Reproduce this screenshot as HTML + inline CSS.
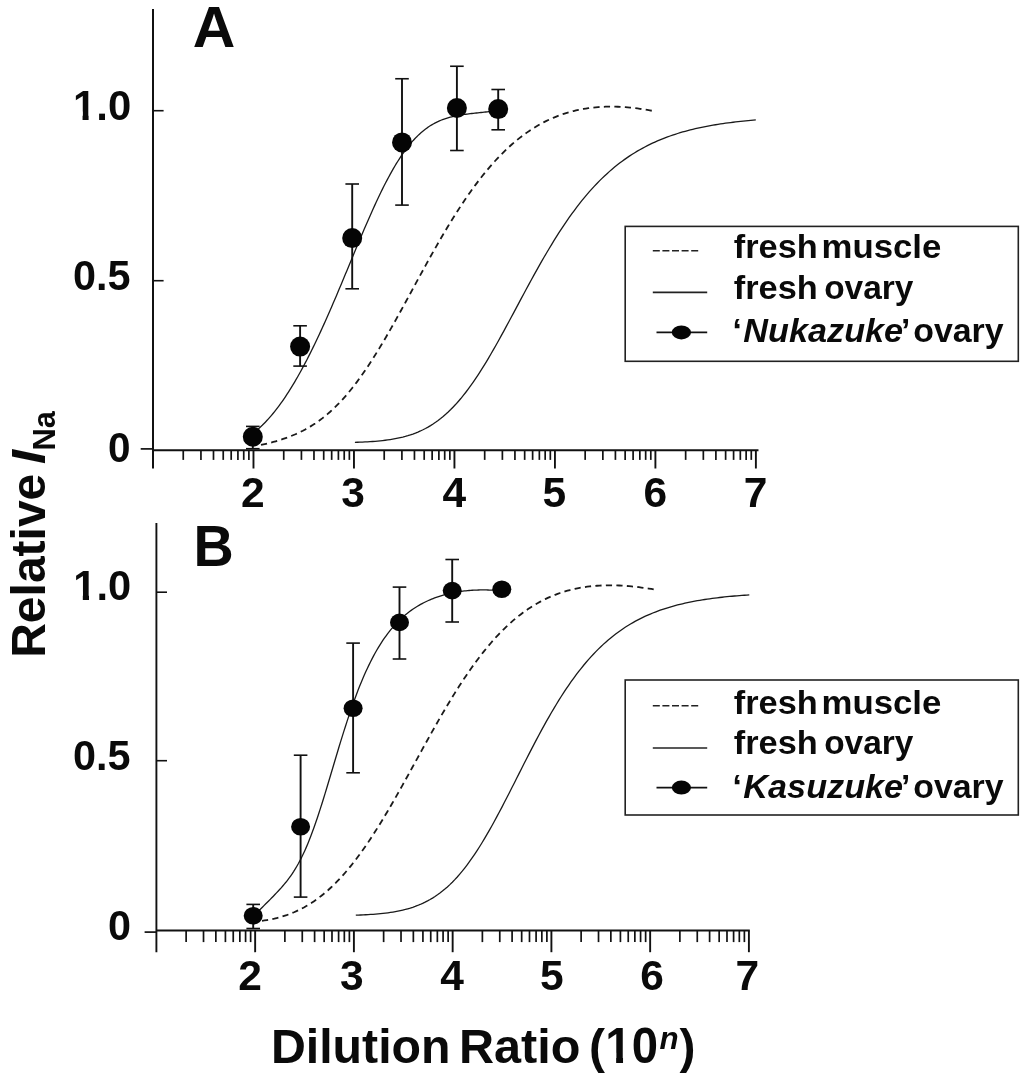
<!DOCTYPE html>
<html lang="en"><head><meta charset="utf-8"><title>Figure</title>
<style>
html,body{margin:0;padding:0;background:#fff;}
body{width:1024px;height:1079px;overflow:hidden;}
svg{display:block;font-family:"Liberation Sans",Arial,Helvetica,sans-serif;fill:#0a0a0a;}
</style></head><body>
<svg width="1024" height="1079" viewBox="0 0 1024 1079">
<rect x="0" y="0" width="1024" height="1079" fill="#fff"/>
<line x1="153.00" y1="9.00" x2="153.00" y2="468.50" stroke="#111" stroke-width="2.0"/>
<line x1="153.00" y1="450.30" x2="758.48" y2="450.30" stroke="#111" stroke-width="2.0"/>
<line x1="140.70" y1="448.90" x2="153.00" y2="448.90" stroke="#111" stroke-width="1.7"/>
<line x1="153.00" y1="110.70" x2="163.60" y2="110.70" stroke="#111" stroke-width="1.6"/>
<line x1="153.00" y1="280.70" x2="163.60" y2="280.70" stroke="#111" stroke-width="1.6"/>
<line x1="183.25" y1="450.30" x2="183.25" y2="459.90" stroke="#111" stroke-width="1.7"/>
<line x1="200.94" y1="450.30" x2="200.94" y2="459.90" stroke="#111" stroke-width="1.7"/>
<line x1="213.49" y1="450.30" x2="213.49" y2="459.90" stroke="#111" stroke-width="1.7"/>
<line x1="223.23" y1="450.30" x2="223.23" y2="459.90" stroke="#111" stroke-width="1.7"/>
<line x1="231.19" y1="450.30" x2="231.19" y2="459.90" stroke="#111" stroke-width="1.7"/>
<line x1="237.92" y1="450.30" x2="237.92" y2="459.90" stroke="#111" stroke-width="1.7"/>
<line x1="243.74" y1="450.30" x2="243.74" y2="459.90" stroke="#111" stroke-width="1.7"/>
<line x1="248.88" y1="450.30" x2="248.88" y2="459.90" stroke="#111" stroke-width="1.7"/>
<line x1="253.48" y1="450.30" x2="253.48" y2="468.50" stroke="#111" stroke-width="1.9"/>
<line x1="283.73" y1="450.30" x2="283.73" y2="459.90" stroke="#111" stroke-width="1.7"/>
<line x1="301.42" y1="450.30" x2="301.42" y2="459.90" stroke="#111" stroke-width="1.7"/>
<line x1="313.97" y1="450.30" x2="313.97" y2="459.90" stroke="#111" stroke-width="1.7"/>
<line x1="323.71" y1="450.30" x2="323.71" y2="459.90" stroke="#111" stroke-width="1.7"/>
<line x1="331.67" y1="450.30" x2="331.67" y2="459.90" stroke="#111" stroke-width="1.7"/>
<line x1="338.40" y1="450.30" x2="338.40" y2="459.90" stroke="#111" stroke-width="1.7"/>
<line x1="344.22" y1="450.30" x2="344.22" y2="459.90" stroke="#111" stroke-width="1.7"/>
<line x1="349.36" y1="450.30" x2="349.36" y2="459.90" stroke="#111" stroke-width="1.7"/>
<line x1="353.96" y1="450.30" x2="353.96" y2="468.50" stroke="#111" stroke-width="1.9"/>
<line x1="384.21" y1="450.30" x2="384.21" y2="459.90" stroke="#111" stroke-width="1.7"/>
<line x1="401.90" y1="450.30" x2="401.90" y2="459.90" stroke="#111" stroke-width="1.7"/>
<line x1="414.45" y1="450.30" x2="414.45" y2="459.90" stroke="#111" stroke-width="1.7"/>
<line x1="424.19" y1="450.30" x2="424.19" y2="459.90" stroke="#111" stroke-width="1.7"/>
<line x1="432.15" y1="450.30" x2="432.15" y2="459.90" stroke="#111" stroke-width="1.7"/>
<line x1="438.88" y1="450.30" x2="438.88" y2="459.90" stroke="#111" stroke-width="1.7"/>
<line x1="444.70" y1="450.30" x2="444.70" y2="459.90" stroke="#111" stroke-width="1.7"/>
<line x1="449.84" y1="450.30" x2="449.84" y2="459.90" stroke="#111" stroke-width="1.7"/>
<line x1="454.44" y1="450.30" x2="454.44" y2="468.50" stroke="#111" stroke-width="1.9"/>
<line x1="484.69" y1="450.30" x2="484.69" y2="459.90" stroke="#111" stroke-width="1.7"/>
<line x1="502.38" y1="450.30" x2="502.38" y2="459.90" stroke="#111" stroke-width="1.7"/>
<line x1="514.93" y1="450.30" x2="514.93" y2="459.90" stroke="#111" stroke-width="1.7"/>
<line x1="524.67" y1="450.30" x2="524.67" y2="459.90" stroke="#111" stroke-width="1.7"/>
<line x1="532.63" y1="450.30" x2="532.63" y2="459.90" stroke="#111" stroke-width="1.7"/>
<line x1="539.36" y1="450.30" x2="539.36" y2="459.90" stroke="#111" stroke-width="1.7"/>
<line x1="545.18" y1="450.30" x2="545.18" y2="459.90" stroke="#111" stroke-width="1.7"/>
<line x1="550.32" y1="450.30" x2="550.32" y2="459.90" stroke="#111" stroke-width="1.7"/>
<line x1="554.92" y1="450.30" x2="554.92" y2="468.50" stroke="#111" stroke-width="1.9"/>
<line x1="585.17" y1="450.30" x2="585.17" y2="459.90" stroke="#111" stroke-width="1.7"/>
<line x1="602.86" y1="450.30" x2="602.86" y2="459.90" stroke="#111" stroke-width="1.7"/>
<line x1="615.41" y1="450.30" x2="615.41" y2="459.90" stroke="#111" stroke-width="1.7"/>
<line x1="625.15" y1="450.30" x2="625.15" y2="459.90" stroke="#111" stroke-width="1.7"/>
<line x1="633.11" y1="450.30" x2="633.11" y2="459.90" stroke="#111" stroke-width="1.7"/>
<line x1="639.84" y1="450.30" x2="639.84" y2="459.90" stroke="#111" stroke-width="1.7"/>
<line x1="645.66" y1="450.30" x2="645.66" y2="459.90" stroke="#111" stroke-width="1.7"/>
<line x1="650.80" y1="450.30" x2="650.80" y2="459.90" stroke="#111" stroke-width="1.7"/>
<line x1="655.40" y1="450.30" x2="655.40" y2="468.50" stroke="#111" stroke-width="1.9"/>
<line x1="685.65" y1="450.30" x2="685.65" y2="459.90" stroke="#111" stroke-width="1.7"/>
<line x1="703.34" y1="450.30" x2="703.34" y2="459.90" stroke="#111" stroke-width="1.7"/>
<line x1="715.89" y1="450.30" x2="715.89" y2="459.90" stroke="#111" stroke-width="1.7"/>
<line x1="725.63" y1="450.30" x2="725.63" y2="459.90" stroke="#111" stroke-width="1.7"/>
<line x1="733.59" y1="450.30" x2="733.59" y2="459.90" stroke="#111" stroke-width="1.7"/>
<line x1="740.32" y1="450.30" x2="740.32" y2="459.90" stroke="#111" stroke-width="1.7"/>
<line x1="746.14" y1="450.30" x2="746.14" y2="459.90" stroke="#111" stroke-width="1.7"/>
<line x1="751.28" y1="450.30" x2="751.28" y2="459.90" stroke="#111" stroke-width="1.7"/>
<line x1="755.88" y1="450.30" x2="755.88" y2="468.50" stroke="#111" stroke-width="1.9"/>
<path d="M354.90,442.35 L357.42,442.27 L359.94,442.17 L362.46,442.07 L364.99,441.94 L367.51,441.81 L370.03,441.65 L372.55,441.48 L375.07,441.29 L377.59,441.07 L380.11,440.83 L382.64,440.56 L385.16,440.26 L387.68,439.93 L390.20,439.56 L392.72,439.16 L395.24,438.71 L397.76,438.21 L400.28,437.66 L402.81,437.06 L405.33,436.40 L407.85,435.68 L410.37,434.89 L412.89,434.03 L415.41,433.09 L417.93,432.08 L420.46,430.97 L422.98,429.78 L425.50,428.50 L428.02,427.11 L430.54,425.63 L433.06,424.03 L435.58,422.33 L438.11,420.51 L440.63,418.57 L443.15,416.51 L445.67,414.33 L448.19,412.02 L450.71,409.58 L453.23,407.01 L455.76,404.32 L458.28,401.49 L460.80,398.54 L463.32,395.45 L465.84,392.24 L468.36,388.90 L470.88,385.43 L473.41,381.85 L475.93,378.15 L478.45,374.34 L480.97,370.42 L483.49,366.40 L486.01,362.29 L488.53,358.08 L491.05,353.79 L493.58,349.42 L496.10,344.98 L498.62,340.48 L501.14,335.93 L503.66,331.33 L506.18,326.68 L508.70,322.01 L511.23,317.31 L513.75,312.60 L516.27,307.87 L518.79,303.15 L521.31,298.43 L523.83,293.72 L526.35,289.04 L528.88,284.38 L531.40,279.75 L533.92,275.16 L536.44,270.61 L538.96,266.12 L541.48,261.68 L544.00,257.29 L546.53,252.98 L549.05,248.72 L551.57,244.54 L554.09,240.44 L556.61,236.41 L559.13,232.45 L561.65,228.58 L564.17,224.80 L566.70,221.09 L569.22,217.48 L571.74,213.95 L574.26,210.51 L576.78,207.15 L579.30,203.89 L581.82,200.71 L584.35,197.62 L586.87,194.62 L589.39,191.70 L591.91,188.87 L594.43,186.13 L596.95,183.47 L599.47,180.89 L602.00,178.40 L604.52,175.98 L607.04,173.65 L609.56,171.39 L612.08,169.20 L614.60,167.10 L617.12,165.06 L619.65,163.10 L622.17,161.20 L624.69,159.37 L627.21,157.61 L629.73,155.91 L632.25,154.27 L634.77,152.70 L637.29,151.18 L639.82,149.72 L642.34,148.31 L644.86,146.96 L647.38,145.66 L649.90,144.41 L652.42,143.20 L654.94,142.05 L657.47,140.94 L659.99,139.87 L662.51,138.85 L665.03,137.86 L667.55,136.92 L670.07,136.01 L672.59,135.14 L675.12,134.30 L677.64,133.50 L680.16,132.73 L682.68,131.99 L685.20,131.28 L687.72,130.60 L690.24,129.95 L692.77,129.33 L695.29,128.73 L697.81,128.16 L700.33,127.61 L702.85,127.08 L705.37,126.57 L707.89,126.09 L710.42,125.63 L712.94,125.18 L715.46,124.76 L717.98,124.35 L720.50,123.96 L723.02,123.58 L725.54,123.23 L728.06,122.88 L730.59,122.55 L733.11,122.24 L735.63,121.94 L738.15,121.65 L740.67,121.37 L743.19,121.11 L745.71,120.86 L748.24,120.62 L750.76,120.38 L753.28,120.16 L755.80,119.95" fill="none" stroke="#1a1a1a" stroke-width="1.3" stroke-linejoin="round"/>
<path d="M261.00,444.99 L263.46,444.43 L265.92,443.85 L268.38,443.24 L270.84,442.61 L273.31,441.95 L275.77,441.26 L278.23,440.53 L280.69,439.77 L283.15,438.96 L285.61,438.12 L288.07,437.23 L290.53,436.29 L292.99,435.29 L295.45,434.25 L297.92,433.14 L300.38,431.97 L302.84,430.74 L305.30,429.43 L307.76,428.06 L310.22,426.61 L312.68,425.09 L315.14,423.48 L317.60,421.79 L320.06,420.01 L322.53,418.15 L324.99,416.19 L327.45,414.14 L329.91,412.00 L332.37,409.76 L334.83,407.42 L337.29,404.98 L339.75,402.44 L342.21,399.80 L344.67,397.06 L347.14,394.22 L349.60,391.27 L352.06,388.23 L354.52,385.08 L356.98,381.84 L359.44,378.50 L361.90,375.07 L364.36,371.54 L366.82,367.93 L369.28,364.23 L371.75,360.44 L374.21,356.58 L376.67,352.64 L379.13,348.62 L381.59,344.54 L384.05,340.40 L386.51,336.19 L388.97,331.93 L391.43,327.62 L393.89,323.27 L396.36,318.88 L398.82,314.45 L401.28,309.99 L403.74,305.51 L406.20,301.00 L408.66,296.49 L411.12,291.97 L413.58,287.44 L416.04,282.91 L418.50,278.39 L420.97,273.88 L423.43,269.39 L425.89,264.92 L428.35,260.47 L430.81,256.05 L433.27,251.67 L435.73,247.32 L438.19,243.02 L440.65,238.76 L443.11,234.54 L445.58,230.38 L448.04,226.28 L450.50,222.23 L452.96,218.24 L455.42,214.31 L457.88,210.45 L460.34,206.65 L462.80,202.92 L465.26,199.27 L467.72,195.68 L470.19,192.17 L472.65,188.74 L475.11,185.37 L477.57,182.09 L480.03,178.88 L482.49,175.75 L484.95,172.70 L487.41,169.72 L489.87,166.83 L492.33,164.01 L494.80,161.27 L497.26,158.61 L499.72,156.03 L502.18,153.53 L504.64,151.10 L507.10,148.75 L509.56,146.47 L512.02,144.27 L514.48,142.15 L516.94,140.10 L519.41,138.12 L521.87,136.22 L524.33,134.38 L526.79,132.62 L529.25,130.93 L531.71,129.30 L534.17,127.74 L536.63,126.25 L539.09,124.82 L541.55,123.46 L544.02,122.15 L546.48,120.91 L548.94,119.74 L551.40,118.62 L553.86,117.55 L556.32,116.55 L558.78,115.60 L561.24,114.70 L563.70,113.86 L566.16,113.07 L568.63,112.34 L571.09,111.65 L573.55,111.01 L576.01,110.42 L578.47,109.88 L580.93,109.38 L583.39,108.93 L585.85,108.52 L588.31,108.16 L590.77,107.83 L593.24,107.55 L595.70,107.31 L598.16,107.10 L600.62,106.94 L603.08,106.81 L605.54,106.72 L608.00,106.66 L610.46,106.64 L612.92,106.65 L615.38,106.69 L617.85,106.77 L620.31,106.88 L622.77,107.02 L625.23,107.19 L627.69,107.39 L630.15,107.61 L632.61,107.87 L635.07,108.15 L637.53,108.46 L639.99,108.80 L642.46,109.16 L644.92,109.55 L647.38,109.96 L649.84,110.39 L652.30,110.85" fill="none" stroke="#1a1a1a" stroke-width="1.8" stroke-dasharray="6.2 4.3" stroke-linejoin="round"/>
<path d="M253.00,433.26 L254.54,432.07 L256.08,430.82 L257.62,429.51 L259.16,428.16 L260.70,426.74 L262.25,425.28 L263.79,423.76 L265.33,422.18 L266.87,420.55 L268.41,418.86 L269.95,417.12 L271.49,415.33 L273.03,413.48 L274.57,411.58 L276.11,409.62 L277.65,407.61 L279.19,405.55 L280.74,403.44 L282.28,401.27 L283.82,399.05 L285.36,396.77 L286.90,394.45 L288.44,392.07 L289.98,389.64 L291.52,387.17 L293.06,384.64 L294.60,382.06 L296.14,379.43 L297.69,376.75 L299.23,374.02 L300.77,371.25 L302.31,368.42 L303.85,365.56 L305.39,362.64 L306.93,359.68 L308.47,356.67 L310.01,353.63 L311.55,350.53 L313.09,347.40 L314.64,344.23 L316.18,341.01 L317.72,337.76 L319.26,334.46 L320.80,331.14 L322.34,327.77 L323.88,324.37 L325.42,320.94 L326.96,317.48 L328.50,313.99 L330.04,310.47 L331.58,306.92 L333.13,303.35 L334.67,299.75 L336.21,296.14 L337.75,292.50 L339.29,288.85 L340.83,285.18 L342.37,281.49 L343.91,277.80 L345.45,274.10 L346.99,270.38 L348.53,266.67 L350.08,262.95 L351.62,259.24 L353.16,255.52 L354.70,251.81 L356.24,248.11 L357.78,244.43 L359.32,240.75 L360.86,237.09 L362.40,233.45 L363.94,229.83 L365.48,226.24 L367.03,222.68 L368.57,219.14 L370.11,215.64 L371.65,212.18 L373.19,208.75 L374.73,205.37 L376.27,202.03 L377.81,198.73 L379.35,195.49 L380.89,192.30 L382.43,189.16 L383.97,186.08 L385.52,183.06 L387.06,180.10 L388.60,177.20 L390.14,174.37 L391.68,171.60 L393.22,168.90 L394.76,166.27 L396.30,163.71 L397.84,161.23 L399.38,158.81 L400.92,156.48 L402.47,154.21 L404.01,152.02 L405.55,149.90 L407.09,147.86 L408.63,145.89 L410.17,144.00 L411.71,142.19 L413.25,140.44 L414.79,138.77 L416.33,137.17 L417.87,135.64 L419.42,134.19 L420.96,132.80 L422.50,131.48 L424.04,130.22 L425.58,129.03 L427.12,127.90 L428.66,126.83 L430.20,125.82 L431.74,124.87 L433.28,123.97 L434.82,123.13 L436.36,122.34 L437.91,121.59 L439.45,120.90 L440.99,120.25 L442.53,119.64 L444.07,119.07 L445.61,118.54 L447.15,118.05 L448.69,117.59 L450.23,117.16 L451.77,116.77 L453.31,116.40 L454.86,116.06 L456.40,115.74 L457.94,115.45 L459.48,115.17 L461.02,114.92 L462.56,114.68 L464.10,114.45 L465.64,114.24 L467.18,114.04 L468.72,113.85 L470.26,113.67 L471.81,113.50 L473.35,113.33 L474.89,113.16 L476.43,113.00 L477.97,112.84 L479.51,112.68 L481.05,112.51 L482.59,112.35 L484.13,112.18 L485.67,112.00 L487.21,111.82 L488.75,111.63 L490.30,111.44 L491.84,111.23 L493.38,111.02 L494.92,110.79 L496.46,110.56 L498.00,110.31" fill="none" stroke="#1a1a1a" stroke-width="1.3" stroke-linejoin="round"/>
<line x1="252.80" y1="426.40" x2="252.80" y2="448.70" stroke="#111" stroke-width="1.9"/>
<line x1="246.00" y1="426.40" x2="259.60" y2="426.40" stroke="#111" stroke-width="1.6"/>
<line x1="246.00" y1="448.70" x2="259.60" y2="448.70" stroke="#111" stroke-width="1.6"/>
<line x1="300.10" y1="325.80" x2="300.10" y2="366.10" stroke="#111" stroke-width="1.9"/>
<line x1="293.30" y1="325.80" x2="306.90" y2="325.80" stroke="#111" stroke-width="1.6"/>
<line x1="293.30" y1="366.10" x2="306.90" y2="366.10" stroke="#111" stroke-width="1.6"/>
<line x1="352.20" y1="184.00" x2="352.20" y2="288.80" stroke="#111" stroke-width="1.9"/>
<line x1="345.40" y1="184.00" x2="359.00" y2="184.00" stroke="#111" stroke-width="1.6"/>
<line x1="345.40" y1="288.80" x2="359.00" y2="288.80" stroke="#111" stroke-width="1.6"/>
<line x1="402.00" y1="78.75" x2="402.00" y2="205.10" stroke="#111" stroke-width="1.9"/>
<line x1="395.20" y1="78.75" x2="408.80" y2="78.75" stroke="#111" stroke-width="1.6"/>
<line x1="395.20" y1="205.10" x2="408.80" y2="205.10" stroke="#111" stroke-width="1.6"/>
<line x1="456.90" y1="66.25" x2="456.90" y2="150.50" stroke="#111" stroke-width="1.9"/>
<line x1="450.10" y1="66.25" x2="463.70" y2="66.25" stroke="#111" stroke-width="1.6"/>
<line x1="450.10" y1="150.50" x2="463.70" y2="150.50" stroke="#111" stroke-width="1.6"/>
<line x1="498.20" y1="89.50" x2="498.20" y2="129.80" stroke="#111" stroke-width="1.9"/>
<line x1="491.40" y1="89.50" x2="505.00" y2="89.50" stroke="#111" stroke-width="1.6"/>
<line x1="491.40" y1="129.80" x2="505.00" y2="129.80" stroke="#111" stroke-width="1.6"/>
<ellipse cx="252.80" cy="436.80" rx="10" ry="10" fill="#050505"/>
<ellipse cx="300.10" cy="346.60" rx="10" ry="10" fill="#050505"/>
<ellipse cx="352.20" cy="238.10" rx="10" ry="10" fill="#050505"/>
<ellipse cx="402.00" cy="142.40" rx="10" ry="10" fill="#050505"/>
<ellipse cx="456.90" cy="108.00" rx="10" ry="10" fill="#050505"/>
<ellipse cx="498.20" cy="109.10" rx="10" ry="10" fill="#050505"/>
<line x1="156.40" y1="523.00" x2="156.40" y2="952.20" stroke="#111" stroke-width="1.9"/>
<line x1="156.40" y1="930.60" x2="749.80" y2="930.60" stroke="#111" stroke-width="2.0"/>
<line x1="144.60" y1="932.10" x2="156.40" y2="932.10" stroke="#111" stroke-width="1.7"/>
<line x1="156.40" y1="592.20" x2="167.00" y2="592.20" stroke="#111" stroke-width="1.6"/>
<line x1="156.40" y1="760.70" x2="167.00" y2="760.70" stroke="#111" stroke-width="1.6"/>
<line x1="186.13" y1="930.60" x2="186.13" y2="942.10" stroke="#111" stroke-width="1.7"/>
<line x1="203.52" y1="930.60" x2="203.52" y2="942.10" stroke="#111" stroke-width="1.7"/>
<line x1="215.85" y1="930.60" x2="215.85" y2="942.10" stroke="#111" stroke-width="1.7"/>
<line x1="225.42" y1="930.60" x2="225.42" y2="942.10" stroke="#111" stroke-width="1.7"/>
<line x1="233.24" y1="930.60" x2="233.24" y2="942.10" stroke="#111" stroke-width="1.7"/>
<line x1="239.85" y1="930.60" x2="239.85" y2="942.10" stroke="#111" stroke-width="1.7"/>
<line x1="245.58" y1="930.60" x2="245.58" y2="942.10" stroke="#111" stroke-width="1.7"/>
<line x1="250.63" y1="930.60" x2="250.63" y2="942.10" stroke="#111" stroke-width="1.7"/>
<line x1="255.15" y1="930.60" x2="255.15" y2="952.20" stroke="#111" stroke-width="1.9"/>
<line x1="284.88" y1="930.60" x2="284.88" y2="942.10" stroke="#111" stroke-width="1.7"/>
<line x1="302.27" y1="930.60" x2="302.27" y2="942.10" stroke="#111" stroke-width="1.7"/>
<line x1="314.60" y1="930.60" x2="314.60" y2="942.10" stroke="#111" stroke-width="1.7"/>
<line x1="324.17" y1="930.60" x2="324.17" y2="942.10" stroke="#111" stroke-width="1.7"/>
<line x1="331.99" y1="930.60" x2="331.99" y2="942.10" stroke="#111" stroke-width="1.7"/>
<line x1="338.60" y1="930.60" x2="338.60" y2="942.10" stroke="#111" stroke-width="1.7"/>
<line x1="344.33" y1="930.60" x2="344.33" y2="942.10" stroke="#111" stroke-width="1.7"/>
<line x1="349.38" y1="930.60" x2="349.38" y2="942.10" stroke="#111" stroke-width="1.7"/>
<line x1="353.90" y1="930.60" x2="353.90" y2="952.20" stroke="#111" stroke-width="1.9"/>
<line x1="383.63" y1="930.60" x2="383.63" y2="942.10" stroke="#111" stroke-width="1.7"/>
<line x1="401.02" y1="930.60" x2="401.02" y2="942.10" stroke="#111" stroke-width="1.7"/>
<line x1="413.35" y1="930.60" x2="413.35" y2="942.10" stroke="#111" stroke-width="1.7"/>
<line x1="422.92" y1="930.60" x2="422.92" y2="942.10" stroke="#111" stroke-width="1.7"/>
<line x1="430.74" y1="930.60" x2="430.74" y2="942.10" stroke="#111" stroke-width="1.7"/>
<line x1="437.35" y1="930.60" x2="437.35" y2="942.10" stroke="#111" stroke-width="1.7"/>
<line x1="443.08" y1="930.60" x2="443.08" y2="942.10" stroke="#111" stroke-width="1.7"/>
<line x1="448.13" y1="930.60" x2="448.13" y2="942.10" stroke="#111" stroke-width="1.7"/>
<line x1="452.65" y1="930.60" x2="452.65" y2="952.20" stroke="#111" stroke-width="1.9"/>
<line x1="482.38" y1="930.60" x2="482.38" y2="942.10" stroke="#111" stroke-width="1.7"/>
<line x1="499.77" y1="930.60" x2="499.77" y2="942.10" stroke="#111" stroke-width="1.7"/>
<line x1="512.10" y1="930.60" x2="512.10" y2="942.10" stroke="#111" stroke-width="1.7"/>
<line x1="521.67" y1="930.60" x2="521.67" y2="942.10" stroke="#111" stroke-width="1.7"/>
<line x1="529.49" y1="930.60" x2="529.49" y2="942.10" stroke="#111" stroke-width="1.7"/>
<line x1="536.10" y1="930.60" x2="536.10" y2="942.10" stroke="#111" stroke-width="1.7"/>
<line x1="541.83" y1="930.60" x2="541.83" y2="942.10" stroke="#111" stroke-width="1.7"/>
<line x1="546.88" y1="930.60" x2="546.88" y2="942.10" stroke="#111" stroke-width="1.7"/>
<line x1="551.40" y1="930.60" x2="551.40" y2="952.20" stroke="#111" stroke-width="1.9"/>
<line x1="581.13" y1="930.60" x2="581.13" y2="942.10" stroke="#111" stroke-width="1.7"/>
<line x1="598.52" y1="930.60" x2="598.52" y2="942.10" stroke="#111" stroke-width="1.7"/>
<line x1="610.85" y1="930.60" x2="610.85" y2="942.10" stroke="#111" stroke-width="1.7"/>
<line x1="620.42" y1="930.60" x2="620.42" y2="942.10" stroke="#111" stroke-width="1.7"/>
<line x1="628.24" y1="930.60" x2="628.24" y2="942.10" stroke="#111" stroke-width="1.7"/>
<line x1="634.85" y1="930.60" x2="634.85" y2="942.10" stroke="#111" stroke-width="1.7"/>
<line x1="640.58" y1="930.60" x2="640.58" y2="942.10" stroke="#111" stroke-width="1.7"/>
<line x1="645.63" y1="930.60" x2="645.63" y2="942.10" stroke="#111" stroke-width="1.7"/>
<line x1="650.15" y1="930.60" x2="650.15" y2="952.20" stroke="#111" stroke-width="1.9"/>
<line x1="679.88" y1="930.60" x2="679.88" y2="942.10" stroke="#111" stroke-width="1.7"/>
<line x1="697.27" y1="930.60" x2="697.27" y2="942.10" stroke="#111" stroke-width="1.7"/>
<line x1="709.60" y1="930.60" x2="709.60" y2="942.10" stroke="#111" stroke-width="1.7"/>
<line x1="719.17" y1="930.60" x2="719.17" y2="942.10" stroke="#111" stroke-width="1.7"/>
<line x1="726.99" y1="930.60" x2="726.99" y2="942.10" stroke="#111" stroke-width="1.7"/>
<line x1="733.60" y1="930.60" x2="733.60" y2="942.10" stroke="#111" stroke-width="1.7"/>
<line x1="739.33" y1="930.60" x2="739.33" y2="942.10" stroke="#111" stroke-width="1.7"/>
<line x1="744.38" y1="930.60" x2="744.38" y2="942.10" stroke="#111" stroke-width="1.7"/>
<line x1="748.90" y1="930.60" x2="748.90" y2="952.20" stroke="#111" stroke-width="1.9"/>
<path d="M355.80,915.20 L358.27,915.10 L360.75,915.00 L363.22,914.89 L365.70,914.76 L368.17,914.62 L370.65,914.46 L373.12,914.29 L375.60,914.10 L378.07,913.88 L380.55,913.65 L383.02,913.39 L385.50,913.10 L387.97,912.78 L390.45,912.43 L392.92,912.04 L395.40,911.61 L397.87,911.15 L400.35,910.64 L402.82,910.08 L405.30,909.47 L407.77,908.80 L410.25,908.07 L412.72,907.28 L415.20,906.41 L417.67,905.48 L420.15,904.47 L422.62,903.37 L425.10,902.19 L427.57,900.92 L430.05,899.55 L432.52,898.08 L434.99,896.50 L437.47,894.82 L439.94,893.02 L442.42,891.10 L444.89,889.06 L447.37,886.90 L449.84,884.61 L452.32,882.19 L454.79,879.64 L457.27,876.95 L459.74,874.13 L462.22,871.17 L464.69,868.07 L467.17,864.84 L469.64,861.48 L472.12,857.99 L474.59,854.36 L477.07,850.61 L479.54,846.74 L482.02,842.75 L484.49,838.65 L486.97,834.44 L489.44,830.13 L491.92,825.73 L494.39,821.24 L496.87,816.67 L499.34,812.03 L501.82,807.33 L504.29,802.57 L506.77,797.77 L509.24,792.93 L511.72,788.06 L514.19,783.17 L516.66,778.27 L519.14,773.36 L521.61,768.47 L524.09,763.58 L526.56,758.72 L529.04,753.89 L531.51,749.09 L533.99,744.34 L536.46,739.63 L538.94,734.99 L541.41,730.40 L543.89,725.89 L546.36,721.44 L548.84,717.08 L551.31,712.79 L553.79,708.59 L556.26,704.47 L558.74,700.44 L561.21,696.51 L563.69,692.67 L566.16,688.93 L568.64,685.28 L571.11,681.74 L573.59,678.29 L576.06,674.93 L578.54,671.68 L581.01,668.53 L583.49,665.47 L585.96,662.51 L588.44,659.65 L590.91,656.88 L593.38,654.20 L595.86,651.61 L598.33,649.12 L600.81,646.71 L603.28,644.39 L605.76,642.16 L608.23,640.00 L610.71,637.93 L613.18,635.94 L615.66,634.02 L618.13,632.18 L620.61,630.41 L623.08,628.71 L625.56,627.08 L628.03,625.51 L630.51,624.01 L632.98,622.57 L635.46,621.19 L637.93,619.86 L640.41,618.59 L642.88,617.38 L645.36,616.21 L647.83,615.10 L650.31,614.03 L652.78,613.01 L655.26,612.04 L657.73,611.10 L660.21,610.21 L662.68,609.36 L665.16,608.54 L667.63,607.76 L670.11,607.01 L672.58,606.30 L675.05,605.62 L677.53,604.97 L680.00,604.35 L682.48,603.76 L684.95,603.19 L687.43,602.65 L689.90,602.13 L692.38,601.64 L694.85,601.17 L697.33,600.72 L699.80,600.29 L702.28,599.89 L704.75,599.50 L707.23,599.12 L709.70,598.77 L712.18,598.43 L714.65,598.11 L717.13,597.80 L719.60,597.51 L722.08,597.23 L724.55,596.96 L727.03,596.71 L729.50,596.47 L731.98,596.23 L734.45,596.01 L736.93,595.80 L739.40,595.60 L741.88,595.41 L744.35,595.23 L746.83,595.06 L749.30,594.89" fill="none" stroke="#1a1a1a" stroke-width="1.3" stroke-linejoin="round"/>
<path d="M262.00,920.77 L264.46,920.44 L266.93,920.06 L269.39,919.63 L271.85,919.16 L274.32,918.63 L276.78,918.04 L279.24,917.40 L281.71,916.70 L284.17,915.94 L286.64,915.12 L289.10,914.24 L291.56,913.28 L294.03,912.26 L296.49,911.17 L298.95,910.00 L301.42,908.76 L303.88,907.45 L306.34,906.05 L308.81,904.58 L311.27,903.03 L313.73,901.39 L316.20,899.67 L318.66,897.86 L321.12,895.96 L323.59,893.98 L326.05,891.90 L328.52,889.74 L330.98,887.48 L333.44,885.13 L335.91,882.69 L338.37,880.15 L340.83,877.52 L343.30,874.80 L345.76,871.99 L348.22,869.08 L350.69,866.08 L353.15,862.99 L355.61,859.81 L358.08,856.54 L360.54,853.19 L363.00,849.75 L365.47,846.22 L367.93,842.62 L370.39,838.93 L372.86,835.17 L375.32,831.34 L377.79,827.43 L380.25,823.46 L382.71,819.43 L385.18,815.33 L387.64,811.18 L390.10,806.98 L392.57,802.73 L395.03,798.44 L397.49,794.10 L399.96,789.74 L402.42,785.34 L404.88,780.91 L407.35,776.47 L409.81,772.01 L412.27,767.54 L414.74,763.06 L417.20,758.58 L419.67,754.10 L422.13,749.63 L424.59,745.17 L427.06,740.73 L429.52,736.30 L431.98,731.91 L434.45,727.54 L436.91,723.21 L439.37,718.92 L441.84,714.66 L444.30,710.46 L446.76,706.30 L449.23,702.19 L451.69,698.14 L454.15,694.15 L456.62,690.22 L459.08,686.35 L461.55,682.55 L464.01,678.81 L466.47,675.15 L468.94,671.56 L471.40,668.05 L473.86,664.61 L476.33,661.24 L478.79,657.96 L481.25,654.75 L483.72,651.62 L486.18,648.58 L488.64,645.61 L491.11,642.73 L493.57,639.93 L496.03,637.21 L498.50,634.57 L500.96,632.01 L503.43,629.53 L505.89,627.14 L508.35,624.82 L510.82,622.58 L513.28,620.43 L515.74,618.35 L518.21,616.34 L520.67,614.42 L523.13,612.56 L525.60,610.79 L528.06,609.08 L530.52,607.45 L532.99,605.89 L535.45,604.39 L537.91,602.97 L540.38,601.61 L542.84,600.32 L545.31,599.09 L547.77,597.93 L550.23,596.82 L552.70,595.78 L555.16,594.79 L557.62,593.87 L560.09,592.99 L562.55,592.18 L565.01,591.41 L567.48,590.70 L569.94,590.04 L572.40,589.43 L574.87,588.86 L577.33,588.34 L579.79,587.87 L582.26,587.44 L584.72,587.06 L587.18,586.71 L589.65,586.41 L592.11,586.14 L594.58,585.92 L597.04,585.73 L599.50,585.58 L601.97,585.46 L604.43,585.37 L606.89,585.32 L609.36,585.30 L611.82,585.31 L614.28,585.35 L616.75,585.42 L619.21,585.52 L621.67,585.64 L624.14,585.79 L626.60,585.97 L629.06,586.17 L631.53,586.40 L633.99,586.64 L636.46,586.91 L638.92,587.20 L641.38,587.52 L643.85,587.85 L646.31,588.20 L648.77,588.57 L651.24,588.96 L653.70,589.37" fill="none" stroke="#1a1a1a" stroke-width="1.8" stroke-dasharray="6.2 4.3" stroke-linejoin="round"/>
<path d="M253.00,916.75 L254.57,915.14 L256.13,913.54 L257.70,911.94 L259.26,910.36 L260.83,908.78 L262.40,907.20 L263.96,905.63 L265.53,904.07 L267.09,902.50 L268.66,900.93 L270.23,899.35 L271.79,897.77 L273.36,896.17 L274.92,894.56 L276.49,892.92 L278.06,891.26 L279.62,889.56 L281.19,887.82 L282.75,886.03 L284.32,884.19 L285.89,882.28 L287.45,880.29 L289.02,878.22 L290.58,876.06 L292.15,873.79 L293.72,871.41 L295.28,868.91 L296.85,866.27 L298.42,863.50 L299.98,860.59 L301.55,857.52 L303.11,854.30 L304.68,850.92 L306.25,847.38 L307.81,843.67 L309.38,839.81 L310.94,835.78 L312.51,831.60 L314.08,827.28 L315.64,822.81 L317.21,818.21 L318.77,813.49 L320.34,808.66 L321.91,803.72 L323.47,798.70 L325.04,793.60 L326.60,788.44 L328.17,783.24 L329.74,777.99 L331.30,772.73 L332.87,767.46 L334.43,762.20 L336.00,756.95 L337.57,751.73 L339.13,746.55 L340.70,741.42 L342.26,736.36 L343.83,731.36 L345.40,726.44 L346.96,721.61 L348.53,716.87 L350.09,712.22 L351.66,707.68 L353.23,703.24 L354.79,698.91 L356.36,694.70 L357.92,690.59 L359.49,686.61 L361.06,682.73 L362.62,678.98 L364.19,675.34 L365.75,671.82 L367.32,668.41 L368.89,665.11 L370.45,661.93 L372.02,658.86 L373.58,655.89 L375.15,653.03 L376.72,650.27 L378.28,647.62 L379.85,645.06 L381.42,642.60 L382.98,640.23 L384.55,637.95 L386.11,635.76 L387.68,633.65 L389.25,631.62 L390.81,629.68 L392.38,627.81 L393.94,626.01 L395.51,624.28 L397.08,622.62 L398.64,621.03 L400.21,619.50 L401.77,618.04 L403.34,616.63 L404.91,615.28 L406.47,613.98 L408.04,612.74 L409.60,611.54 L411.17,610.40 L412.74,609.30 L414.30,608.24 L415.87,607.23 L417.43,606.26 L419.00,605.33 L420.57,604.44 L422.13,603.59 L423.70,602.77 L425.26,601.99 L426.83,601.24 L428.40,600.53 L429.96,599.84 L431.53,599.19 L433.09,598.56 L434.66,597.96 L436.23,597.39 L437.79,596.85 L439.36,596.33 L440.92,595.83 L442.49,595.36 L444.06,594.92 L445.62,594.49 L447.19,594.09 L448.75,593.71 L450.32,593.35 L451.89,593.01 L453.45,592.69 L455.02,592.40 L456.58,592.12 L458.15,591.85 L459.72,591.61 L461.28,591.38 L462.85,591.18 L464.42,590.98 L465.98,590.81 L467.55,590.65 L469.11,590.51 L470.68,590.38 L472.25,590.27 L473.81,590.18 L475.38,590.10 L476.94,590.03 L478.51,589.98 L480.08,589.95 L481.64,589.93 L483.21,589.92 L484.77,589.93 L486.34,589.95 L487.91,589.98 L489.47,590.03 L491.04,590.09 L492.60,590.17 L494.17,590.26 L495.74,590.36 L497.30,590.47 L498.87,590.60 L500.43,590.74 L502.00,590.89" fill="none" stroke="#1a1a1a" stroke-width="1.3" stroke-linejoin="round"/>
<line x1="253.20" y1="904.40" x2="253.20" y2="928.50" stroke="#111" stroke-width="1.9"/>
<line x1="246.40" y1="904.40" x2="260.00" y2="904.40" stroke="#111" stroke-width="1.6"/>
<line x1="246.40" y1="928.50" x2="260.00" y2="928.50" stroke="#111" stroke-width="1.6"/>
<line x1="300.60" y1="755.20" x2="300.60" y2="897.10" stroke="#111" stroke-width="1.9"/>
<line x1="293.80" y1="755.20" x2="307.40" y2="755.20" stroke="#111" stroke-width="1.6"/>
<line x1="293.80" y1="897.10" x2="307.40" y2="897.10" stroke="#111" stroke-width="1.6"/>
<line x1="353.10" y1="643.10" x2="353.10" y2="772.80" stroke="#111" stroke-width="1.9"/>
<line x1="346.30" y1="643.10" x2="359.90" y2="643.10" stroke="#111" stroke-width="1.6"/>
<line x1="346.30" y1="772.80" x2="359.90" y2="772.80" stroke="#111" stroke-width="1.6"/>
<line x1="399.50" y1="587.10" x2="399.50" y2="659.00" stroke="#111" stroke-width="1.9"/>
<line x1="392.70" y1="587.10" x2="406.30" y2="587.10" stroke="#111" stroke-width="1.6"/>
<line x1="392.70" y1="659.00" x2="406.30" y2="659.00" stroke="#111" stroke-width="1.6"/>
<line x1="452.20" y1="559.50" x2="452.20" y2="622.00" stroke="#111" stroke-width="1.9"/>
<line x1="445.40" y1="559.50" x2="459.00" y2="559.50" stroke="#111" stroke-width="1.6"/>
<line x1="445.40" y1="622.00" x2="459.00" y2="622.00" stroke="#111" stroke-width="1.6"/>
<ellipse cx="253.20" cy="915.80" rx="9.5" ry="8.8" fill="#050505"/>
<ellipse cx="300.60" cy="826.70" rx="9.5" ry="8.8" fill="#050505"/>
<ellipse cx="353.10" cy="708.20" rx="9.5" ry="8.8" fill="#050505"/>
<ellipse cx="399.50" cy="622.40" rx="9.5" ry="8.8" fill="#050505"/>
<ellipse cx="452.20" cy="590.60" rx="9.5" ry="8.8" fill="#050505"/>
<ellipse cx="501.80" cy="589.30" rx="9.5" ry="8.8" fill="#050505"/>
<rect x="625.2" y="226.4" width="393.0999999999999" height="134.9" fill="#fff" stroke="#222" stroke-width="1.6"/>
<line x1="652.8" y1="250.8" x2="698.4" y2="250.8" stroke="#222" stroke-width="1.5" stroke-dasharray="7 2.6"/>
<line x1="652.80" y1="292.40" x2="707.20" y2="292.40" stroke="#222" stroke-width="1.6"/>
<line x1="656.50" y1="332.40" x2="707.20" y2="332.40" stroke="#111" stroke-width="1.8"/>
<ellipse cx="681.40" cy="332.40" rx="9.6" ry="7.0" fill="#050505"/>
<text transform="translate(733.79,258.40) scale(1.0243,1)" font-size="33.5" font-weight="bold" font-style="normal" >fresh</text>
<text transform="translate(821.56,258.40) scale(1.0381,1)" font-size="33.5" font-weight="bold" font-style="normal" >muscle</text>
<text transform="translate(733.79,299.30) scale(1.0243,1)" font-size="33.5" font-weight="bold" font-style="normal" >fresh</text>
<text transform="translate(824.15,299.30) scale(0.9977,1)" font-size="33.5" font-weight="bold" font-style="normal" >ovary</text>
<text transform="translate(732.55,342.40) scale(1.0000,1)" font-size="33.5" font-weight="bold" font-style="normal" >‘</text>
<text transform="translate(743.36,342.40) scale(1.0221,1)" font-size="33.5" font-weight="bold" font-style="italic" >Nukazuke</text>
<text transform="translate(900.95,342.40) scale(1.0000,1)" font-size="33.5" font-weight="bold" font-style="normal" >’</text>
<text transform="translate(913.24,342.40) scale(1.0114,1)" font-size="33.5" font-weight="bold" font-style="normal" >ovary</text>
<rect x="625.2" y="680.0" width="393.0999999999999" height="135.0" fill="#fff" stroke="#222" stroke-width="1.6"/>
<line x1="652.8" y1="705.8" x2="698.4" y2="705.8" stroke="#222" stroke-width="1.5" stroke-dasharray="7 2.6"/>
<line x1="652.80" y1="748.00" x2="707.20" y2="748.00" stroke="#222" stroke-width="1.6"/>
<line x1="656.50" y1="787.60" x2="707.20" y2="787.60" stroke="#111" stroke-width="1.8"/>
<ellipse cx="681.40" cy="787.60" rx="9.6" ry="7.0" fill="#050505"/>
<text transform="translate(733.79,713.90) scale(1.0243,1)" font-size="33.5" font-weight="bold" font-style="normal" >fresh</text>
<text transform="translate(821.56,713.90) scale(1.0381,1)" font-size="33.5" font-weight="bold" font-style="normal" >muscle</text>
<text transform="translate(733.79,754.00) scale(1.0243,1)" font-size="33.5" font-weight="bold" font-style="normal" >fresh</text>
<text transform="translate(824.15,754.00) scale(0.9977,1)" font-size="33.5" font-weight="bold" font-style="normal" >ovary</text>
<text transform="translate(732.55,797.80) scale(1.0000,1)" font-size="33.5" font-weight="bold" font-style="normal" >‘</text>
<text transform="translate(743.36,797.80) scale(1.0221,1)" font-size="33.5" font-weight="bold" font-style="italic" >Kasuzuke</text>
<text transform="translate(900.95,797.80) scale(1.0000,1)" font-size="33.5" font-weight="bold" font-style="normal" >’</text>
<text transform="translate(913.24,797.80) scale(1.0114,1)" font-size="33.5" font-weight="bold" font-style="normal" >ovary</text>
<text transform="translate(192.78,47.40) scale(1.0161,1)" font-size="58" font-weight="bold" font-style="normal" >A</text>
<text transform="translate(193.48,566.20) scale(0.9611,1)" font-size="58" font-weight="bold" font-style="normal" >B</text>
<g transform="translate(73.02,120.00) scale(0.9847,1)" font-size="42.5" font-weight="bold"><clipPath id="c1_197_0"><path d="M-4.25,-38.25 H15.98 V2.12 H9.69 V-8.50 H-4.25 Z"/></clipPath><text x="0.00" y="0" clip-path="url(#c1_197_0)">1</text><text x="23.64" y="0">.0</text></g>
<text transform="translate(72.92,290.00) scale(0.9738,1)" font-size="42.5" font-weight="bold" font-style="normal" >0.5</text>
<text transform="translate(108.05,461.60) scale(0.9531,1)" font-size="42.5" font-weight="bold" font-style="normal" >0</text>
<g transform="translate(73.33,600.10) scale(0.9792,1)" font-size="42.5" font-weight="bold"><clipPath id="c1_200_0"><path d="M-4.25,-38.25 H15.98 V2.12 H9.69 V-8.50 H-4.25 Z"/></clipPath><text x="0.00" y="0" clip-path="url(#c1_200_0)">1</text><text x="23.64" y="0">.0</text></g>
<text transform="translate(72.92,770.00) scale(0.9738,1)" font-size="42.5" font-weight="bold" font-style="normal" >0.5</text>
<text transform="translate(108.02,940.00) scale(0.9728,1)" font-size="42.5" font-weight="bold" font-style="normal" >0</text>
<text transform="translate(241.05,506.60) scale(1.0000,1)" font-size="42.5" font-weight="bold" font-style="normal" >2</text>
<text transform="translate(341.34,506.60) scale(1.0000,1)" font-size="42.5" font-weight="bold" font-style="normal" >3</text>
<text transform="translate(442.40,506.60) scale(1.0000,1)" font-size="42.5" font-weight="bold" font-style="normal" >4</text>
<text transform="translate(542.42,506.60) scale(1.0000,1)" font-size="42.5" font-weight="bold" font-style="normal" >5</text>
<text transform="translate(643.39,506.60) scale(1.0000,1)" font-size="42.5" font-weight="bold" font-style="normal" >6</text>
<text transform="translate(743.79,506.60) scale(1.0000,1)" font-size="42.5" font-weight="bold" font-style="normal" >7</text>
<text transform="translate(238.15,990.40) scale(1.0000,1)" font-size="42.5" font-weight="bold" font-style="normal" >2</text>
<text transform="translate(340.04,990.40) scale(1.0000,1)" font-size="42.5" font-weight="bold" font-style="normal" >3</text>
<text transform="translate(440.20,990.40) scale(1.0000,1)" font-size="42.5" font-weight="bold" font-style="normal" >4</text>
<text transform="translate(540.02,990.40) scale(1.0000,1)" font-size="42.5" font-weight="bold" font-style="normal" >5</text>
<text transform="translate(640.29,990.40) scale(1.0000,1)" font-size="42.5" font-weight="bold" font-style="normal" >6</text>
<text transform="translate(735.49,990.40) scale(1.0000,1)" font-size="42.5" font-weight="bold" font-style="normal" >7</text>
<text transform="translate(270.93,1062.60) scale(1.0059,1)" font-size="48" font-weight="bold" font-style="normal" >Dilution</text>
<text transform="translate(459.01,1062.60) scale(1.0124,1)" font-size="48" font-weight="bold" font-style="normal" >Ratio</text>
<text transform="translate(588.92,1062.60) scale(1.0000,1)" font-size="48" font-weight="bold" font-style="normal" >(</text>
<g transform="translate(605.37,1062.80) scale(0.9360,1)" font-size="50.5" font-weight="bold"><clipPath id="c1_218_0"><path d="M-5.05,-45.45 H18.99 V2.53 H11.51 V-10.10 H-5.05 Z"/></clipPath><text x="0.00" y="0" clip-path="url(#c1_218_0)">1</text><text x="28.09" y="0">0</text></g>
<text transform="translate(659.39,1048.50) scale(1.0102,1)" font-size="31" font-weight="bold" font-style="italic" >n</text>
<text transform="translate(679.58,1062.60) scale(1.0000,1)" font-size="48" font-weight="bold" font-style="normal" >)</text>
<text transform="rotate(-90) translate(-657.82,44.60) scale(0.9899,1)" font-size="48.5" font-weight="bold" font-style="normal" >Relative</text>
<text transform="rotate(-90) translate(-464.33,44.60) scale(1.0617,1)" font-size="48.5" font-weight="bold" font-style="italic" >I</text>
<text transform="rotate(-90) translate(-450.59,55.00) scale(0.9927,1)" font-size="31" font-weight="bold" font-style="normal" >Na</text>
</svg>
</body></html>
